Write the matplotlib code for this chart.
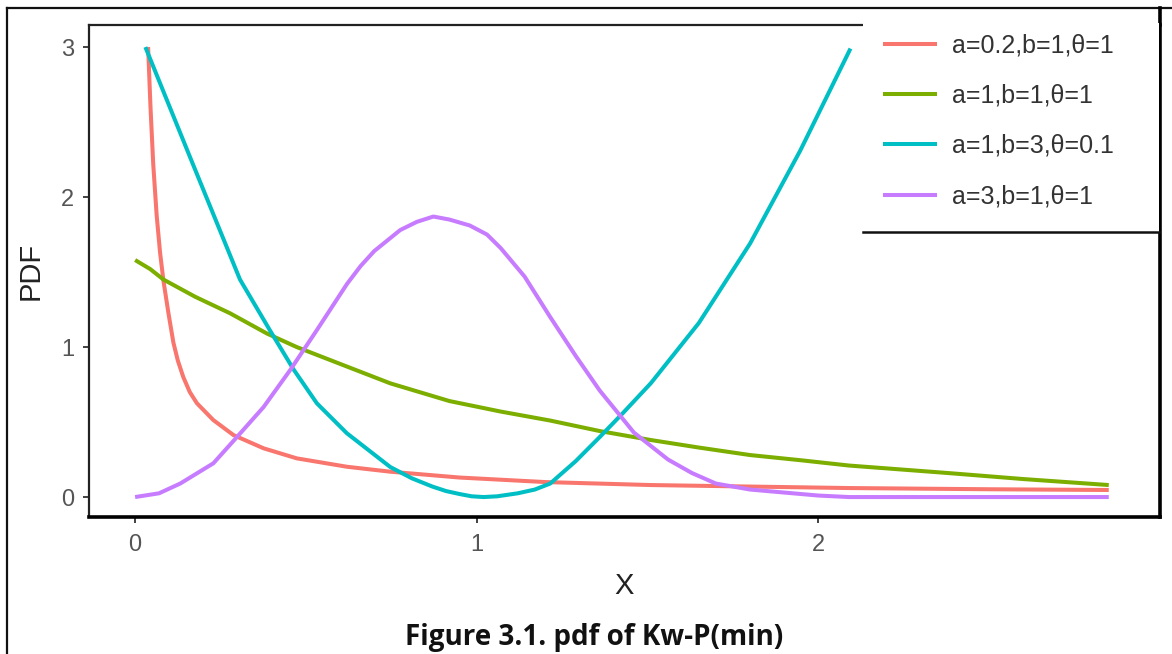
import matplotlib
matplotlib.use('Agg')
import matplotlib.pyplot as plt
from matplotlib.lines import Line2D
from matplotlib.patches import Rectangle

# values
red_x = [0.038, 0.045, 0.053, 0.063, 0.073, 0.083, 0.0976, 0.112, 0.125, 0.141, 0.16, 0.181, 0.229, 0.288,
         0.376, 0.473, 0.62, 0.747, 0.95, 1.2, 1.51, 1.8, 2.09, 2.5, 2.85]
red_y = [3.0, 2.6, 2.22, 1.88, 1.63, 1.44, 1.225, 1.03, 0.91, 0.80, 0.70, 0.625, 0.513, 0.413,
         0.325, 0.258, 0.202, 0.169, 0.13, 0.10, 0.08, 0.07, 0.06, 0.052, 0.047]

green_x = [0.0, 0.044, 0.083, 0.176, 0.278, 0.386, 0.473, 0.62, 0.747, 0.92, 1.07, 1.215, 1.36, 1.51,
           1.65, 1.80, 1.95, 2.09, 2.38, 2.6, 2.85]
green_y = [1.58, 1.52, 1.45, 1.335, 1.225, 1.09, 1.0, 0.87, 0.758, 0.64, 0.57, 0.51, 0.44, 0.38,
           0.33, 0.28, 0.245, 0.21, 0.16, 0.12, 0.08]

cyan_x = [0.03, 0.169, 0.307, 0.395, 0.464, 0.532, 0.62, 0.747, 0.81, 0.87, 0.91, 0.95, 0.985, 1.02,
          1.06, 1.12, 1.17, 1.215, 1.29, 1.36, 1.43, 1.51, 1.65, 1.80, 1.947, 2.094]
cyan_y = [3.0, 2.22, 1.45, 1.11, 0.85, 0.625, 0.425, 0.20, 0.125, 0.07, 0.04, 0.02, 0.005, 0.0,
          0.005, 0.025, 0.05, 0.09, 0.24, 0.40, 0.565, 0.76, 1.16, 1.69, 2.31, 2.99]

purple_x = [0.0, 0.07, 0.132, 0.229, 0.298, 0.376, 0.454, 0.532, 0.62, 0.66, 0.70, 0.776, 0.825, 0.873,
            0.92, 0.98, 1.03, 1.07, 1.14, 1.215, 1.29, 1.36, 1.46, 1.56, 1.63, 1.70, 1.80, 1.90, 2.0,
            2.09, 2.85]
purple_y = [0.0, 0.025, 0.09, 0.225, 0.40, 0.60, 0.847, 1.113, 1.42, 1.54, 1.64, 1.78, 1.835, 1.87,
            1.85, 1.81, 1.75, 1.66, 1.47, 1.20, 0.94, 0.71, 0.43, 0.25, 0.16, 0.09, 0.05, 0.03, 0.01,
            0.0, 0.0]

labels = ['a=0.2,b=1,θ=1', 'a=1,b=1,θ=1', 'a=1,b=3,θ=0.1', 'a=3,b=1,θ=1']
colors = ['#F8766D', '#7CAE00', '#00BFC4', '#C77CFF']

W, H = 1172, 654
plt.rcParams['font.family'] = ['Liberation Sans', 'DejaVu Sans']

fig = plt.figure(figsize=(W / 100, H / 100), dpi=100)
ax = fig.add_axes([89 / W, 1 - 517 / H, (1160 - 89) / W, (517 - 25) / H])

series = [(red_x, red_y), (green_x, green_y), (cyan_x, cyan_y), (purple_x, purple_y)]
for (xs, ys), c, lab in zip(series, colors, labels):
    ax.plot(xs, ys, color=c, lw=2.9, label=lab, solid_capstyle='butt', solid_joinstyle='round')

ax.set_xlim(-0.135, 3.0)
ax.set_ylim(-0.133, 3.147)
ax.set_xticks([0, 1, 2])
ax.set_yticks([0, 1, 2, 3])
ax.tick_params(colors='#333333', labelcolor='#555555', labelsize=17, length=4.5, width=1.3)
ax.tick_params(axis='x', pad=8)
ax.tick_params(axis='y', pad=6)
ax.set_xlabel('X', fontsize=21, color='#222222', labelpad=11)
ax.set_ylabel('PDF', fontsize=21, color='#222222', labelpad=12)

for s in ['left', 'top']:
    ax.spines[s].set_linewidth(1.6)
    ax.spines[s].set_color('#222222')
for s in ['bottom', 'right']:
    ax.spines[s].set_linewidth(2.6)
    ax.spines[s].set_color('black')

def px(x, y):
    return x / W, 1 - y / H

# white box behind the legend, covering the top spine
x0, y0 = px(863, 232)
x1, y1 = px(1158.5, 23)
fig.add_artist(Rectangle((x0, y0), x1 - x0, y1 - y0, transform=fig.transFigure,
                         facecolor='white', edgecolor='none', zorder=3))
fig.add_artist(Line2D([x0, x1], [y0, y0], transform=fig.transFigure, color='#111111', lw=1.8, zorder=4))

handles = [Line2D([], [], color=c, lw=2.9) for c in colors]
leg = fig.legend(handles, labels, loc='upper left', bbox_to_anchor=px(885, 33.5),
                 frameon=False, fontsize=18, borderpad=0, borderaxespad=0,
                 labelspacing=1.05, handlelength=2.0, handletextpad=0.68)
leg.set_zorder(5)
for t in leg.get_texts():
    t.set_color('#333333')

# outer frame of the screenshot
fig.add_artist(Line2D([px(7, 0)[0], 1.0], [px(0, 8)[1]] * 2, transform=fig.transFigure, color='#111111', lw=1.6))
fig.add_artist(Line2D([px(7, 0)[0]] * 2, [px(0, 8)[1], 0.0], transform=fig.transFigure, color='#111111', lw=1.6))
fig.add_artist(Line2D([px(1160, 0)[0]] * 2, [px(0, 8)[1], px(0, 25)[1]], transform=fig.transFigure, color='black', lw=2.6))

fig.text(594 / W, 1 - 637 / H, 'Figure 3.1. pdf of Kw-P(min)', ha='center', va='center',
         fontsize=20, fontweight='bold', family=['Open Sans', 'DejaVu Sans'], color='#111111')

fig.savefig('out.png', dpi=100)
